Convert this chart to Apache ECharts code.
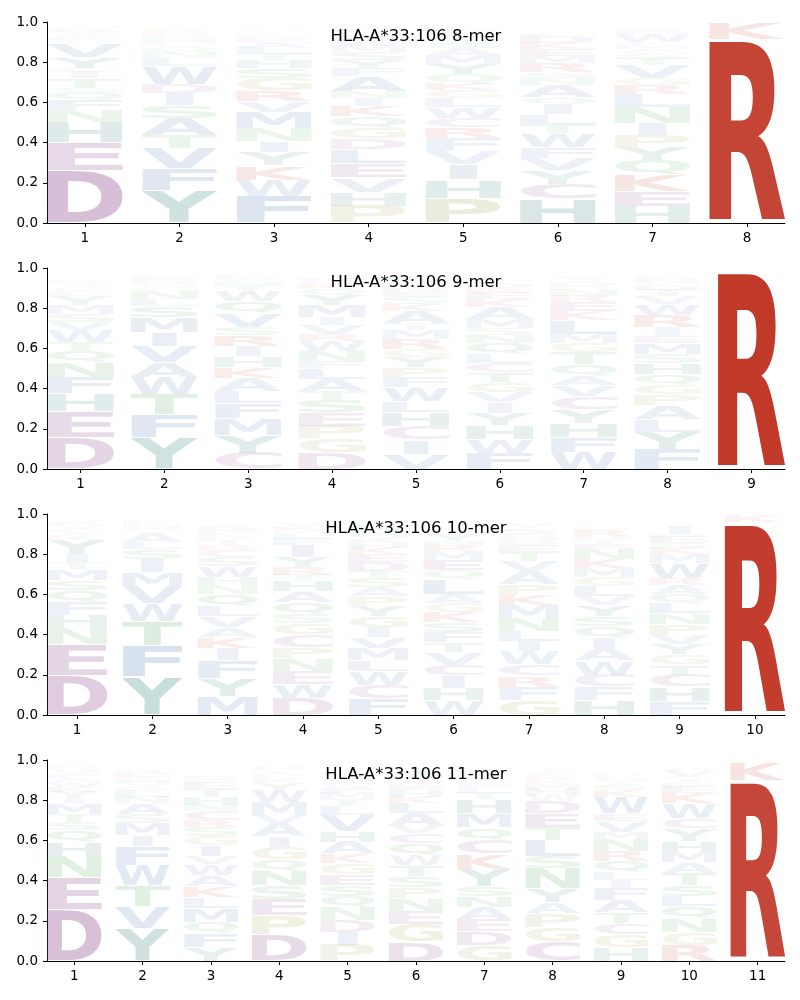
<!DOCTYPE html>
<html><head><meta charset="utf-8">
<script src="https://cdn.jsdelivr.net/npm/echarts@6/dist/echarts.min.js"></script>
<style>html,body{margin:0;padding:0;background:#fff}#c{width:800px;height:1000px}</style>
</head><body><div id="c"></div>
<script>
// Letter stacks per position, bottom -> top: [residue, frequency]
const mer8 = [
 [['D',.26],['E',.14],['H',.10],['N',.06],['F',.05],['Q',.04],['S',.02],['T',.05],['I',.03],['L',.02],['Y',.055],['V',.07],['G',.015],['K',.015],['A',.015],['M',.01],['R',.01],['W',.01],['P',.005],['C',.005]],
 [['Y',.16],['F',.11],['V',.10],['T',.065],['A',.085],['S',.065],['I',.06],['D',.045],['W',.09],['L',.04],['N',.03],['Q',.025],['G',.02],['H',.02],['E',.015],['K',.015],['R',.01],['P',.01],['C',.005]],
 [['F',.135],['W',.08],['K',.07],['Y',.065],['I',.055],['N',.065],['M',.08],['V',.055],['R',.055],['G',.06],['S',.05],['H',.04],['T',.03],['L',.03],['A',.025],['E',.02],['D',.015],['C',.01],['P',.01],['Q',.01]],
 [['P',.085],['H',.07],['V',.07],['E',.07],['L',.07],['D',.055],['G',.055],['Q',.055],['K',.05],['I',.04],['N',.035],['A',.075],['F',.04],['Y',.04],['S',.04],['M',.03],['W',.03],['R',.025],['T',.015],['C',.01]],
 [['P',.125],['H',.09],['I',.075],['V',.065],['F',.065],['R',.055],['C',.045],['W',.055],['L',.045],['G',.04],['K',.035],['Q',.045],['Y',.05],['M',.045],['A',.035],['S',.03],['T',.025],['E',.02],['D',.01],['N',.01]],
 [['H',.12],['C',.075],['Y',.065],['V',.06],['F',.055],['W',.07],['T',.04],['L',.055],['I',.05],['Q',.035],['A',.06],['N',.035],['S',.03],['R',.045],['M',.035],['E',.035],['K',.03],['D',.03],['P',.02],['G',.015]],
 [['H',.085],['E',.075],['K',.08],['Q',.07],['Y',.065],['P',.06],['I',.06],['N',.08],['L',.065],['R',.045],['G',.035],['V',.065],['T',.03],['S',.03],['A',.02],['M',.02],['F',.015],['W',.04],['D',.015],['C',.01]],
 [['R',.915],['K',.08]]
];
const mer9 = [
 [['D',.155],['E',.13],['H',.09],['F',.08],['N',.075],['Q',.055],['T',.045],['W',.06],['V',.04],['S',.04],['M',.045],['Y',.045],['L',.02],['K',.015],['A',.01],['G',.01],['I',.01],['R',.01],['P',.005],['C',.005]],
 [['Y',.155],['F',.115],['T',.10],['W',.085],['A',.075],['V',.08],['I',.07],['M',.075],['S',.055],['L',.035],['N',.04],['G',.02],['Q',.015],['H',.01],['K',.01],['E',.01],['D',.01],['R',.005],['P',.005],['C',.005]],
 [['C',.08],['Y',.09],['M',.08],['F',.075],['L',.06],['A',.065],['K',.055],['H',.055],['I',.05],['R',.055],['S',.04],['V',.07],['Q',.06],['W',.05],['T',.025],['N',.02],['E',.01],['G',.01],['D',.01],['P',.01]],
 [['D',.08],['G',.07],['P',.065],['E',.065],['S',.06],['T',.045],['A',.06],['L',.055],['F',.035],['N',.05],['W',.05],['R',.035],['V',.045],['I',.04],['M',.06],['Y',.05],['Q',.03],['K',.025],['C',.015],['H',.015]],
 [['V',.075],['I',.07],['C',.07],['H',.07],['L',.05],['W',.07],['F',.05],['P',.05],['Y',.05],['G',.04],['R',.05],['M',.045],['T',.035],['A',.06],['K',.035],['S',.035],['E',.025],['D',.02],['Q',.015],['N',.03]],
 [['F',.08],['W',.07],['H',.07],['Y',.06],['I',.05],['V',.05],['G',.05],['T',.05],['C',.045],['L',.045],['Q',.055],['N',.04],['S',.035],['M',.045],['A',.06],['K',.04],['E',.03],['R',.025],['D',.025],['P',.015]],
 [['W',.085],['F',.075],['H',.07],['Y',.065],['C',.065],['V',.055],['A',.05],['Q',.055],['T',.06],['G',.045],['M',.045],['L',.07],['K',.045],['E',.045],['R',.03],['N',.03],['P',.02],['D',.02],['I',.015],['S',.015]],
 [['F',.10],['Y',.085],['L',.06],['A',.07],['P',.055],['G',.05],['Q',.05],['H',.055],['S',.045],['M',.055],['E',.035],['I',.045],['R',.06],['W',.055],['V',.04],['T',.03],['D',.02],['C',.015],['N',.02],['K',.01]],
 [['R',.99]]
];
const mer10 = [
 [['D',.195],['E',.155],['N',.08],['H',.065],['F',.065],['Q',.06],['S',.05],['M',.055],['T',.035],['I',.045],['Y',.065],['K',.02],['A',.015],['L',.01],['G',.01],['V',.02],['R',.01],['W',.01],['P',.005],['C',.005]],
 [['Y',.19],['F',.155],['T',.12],['W',.09],['V',.085],['M',.07],['I',.065],['S',.05],['L',.035],['A',.045],['G',.015],['N',.01],['H',.01],['Q',.01],['K',.01],['E',.005],['D',.005],['R',.005],['P',.005],['C',.005]],
 [['M',.095],['Y',.085],['F',.09],['I',.06],['K',.055],['A',.05],['V',.055],['L',.05],['Q',.06],['N',.045],['H',.04],['W',.055],['S',.045],['C',.035],['R',.025],['T',.025],['P',.02],['E',.015],['D',.01],['G',.03]],
 [['D',.085],['W',.07],['E',.065],['N',.06],['P',.055],['C',.065],['G',.055],['S',.045],['Q',.06],['A',.055],['H',.05],['T',.03],['R',.04],['Y',.05],['I',.06],['F',.03],['L',.025],['M',.02],['K',.02],['V',.02]],
 [['F',.08],['C',.07],['W',.07],['L',.05],['M',.06],['V',.055],['I',.05],['G',.055],['Y',.05],['P',.05],['A',.045],['S',.045],['T',.035],['D',.045],['E',.04],['K',.03],['H',.025],['R',.02],['Q',.035],['N',.03]],
 [['W',.075],['H',.06],['I',.06],['C',.055],['V',.06],['T',.05],['F',.05],['S',.05],['K',.05],['G',.045],['A',.045],['L',.075],['Q',.045],['E',.05],['M',.04],['R',.03],['N',.025],['Y',.03],['D',.015],['P',.02]],
 [['G',.075],['F',.065],['R',.055],['C',.055],['W',.065],['I',.05],['L',.05],['N',.065],['M',.065],['K',.05],['P',.055],['A',.065],['V',.05],['T',.045],['E',.03],['Q',.025],['H',.02],['D',.015],['S',.03],['Y',.02]],
 [['H',.075],['F',.065],['C',.06],['W',.07],['A',.06],['I',.055],['Q',.055],['S',.05],['Y',.055],['V',.045],['L',.05],['G',.045],['M',.045],['K',.045],['N',.05],['E',.025],['T',.02],['D',.015],['R',.03],['P',.02]],
 [['F',.07],['H',.07],['C',.06],['T',.05],['G',.05],['Y',.05],['V',.045],['P',.055],['N',.055],['L',.05],['Q',.045],['A',.045],['R',.035],['W',.075],['M',.045],['K',.03],['S',.025],['E',.03],['D',.015],['I',.04]],
 [['R',.96],['K',.035]]
];
const mer11 = [
 [['D',.255],['E',.16],['N',.105],['H',.07],['Q',.06],['S',.04],['T',.04],['M',.055],['I',.025],['Y',.03],['K',.025],['W',.025],['A',.02],['F',.02],['V',.02],['G',.015],['L',.01],['R',.005],['P',.005],['C',.005]],
 [['Y',.16],['V',.11],['T',.105],['W',.10],['F',.095],['I',.055],['M',.06],['S',.045],['A',.055],['N',.03],['L',.03],['G',.025],['Q',.02],['H',.015],['K',.01],['E',.02],['R',.015],['P',.01],['D',.005],['C',.005]],
 [['Y',.07],['F',.07],['Q',.055],['M',.07],['L',.05],['K',.055],['A',.055],['W',.055],['V',.04],['I',.055],['G',.045],['S',.045],['R',.035],['C',.045],['N',.03],['H',.04],['T',.04],['E',.03],['P',.02],['D',.015]],
 [['D',.13],['P',.095],['E',.08],['S',.07],['N',.075],['Q',.055],['G',.06],['I',.055],['A',.065],['V',.04],['M',.065],['W',.06],['Y',.035],['K',.02],['L',.015],['R',.01],['T',.015],['F',.01],['H',.01],['C',.005]],
 [['P',.078],['I',.065],['D',.06],['N',.065],['Q',.055],['S',.055],['E',.055],['G',.055],['K',.045],['A',.06],['H',.05],['V',.08],['L',.045],['T',.035],['M',.03],['F',.025],['W',.02],['R',.015],['Y',.03],['C',.02]],
 [['D',.095],['G',.09],['E',.065],['N',.06],['P',.055],['S',.055],['T',.055],['W',.05],['Q',.06],['C',.05],['V',.04],['A',.06],['L',.05],['K',.03],['H',.03],['F',.025],['R',.02],['M',.015],['Y',.03],['I',.02]],
 [['G',.078],['D',.07],['E',.06],['A',.06],['N',.055],['S',.05],['Y',.085],['K',.075],['C',.07],['Q',.06],['M',.07],['H',.07],['T',.03],['L',.025],['F',.02],['W',.015],['I',.03],['R',.02],['V',.01],['P',.01]],
 [['C',.095],['G',.07],['P',.07],['A',.055],['Y',.07],['N',.10],['S',.06],['L',.08],['T',.065],['E',.07],['D',.06],['W',.03],['H',.03],['M',.025],['K',.02],['R',.015],['F',.02],['I',.01],['Q',.01],['V',.01]],
 [['H',.068],['G',.065],['C',.055],['T',.055],['A',.06],['F',.06],['I',.04],['L',.04],['Q',.055],['R',.05],['N',.06],['M',.035],['V',.055],['E',.035],['W',.08],['K',.035],['S',.025],['Y',.02],['D',.015],['P',.02]],
 [['R',.078],['G',.065],['N',.07],['Q',.06],['L',.05],['S',.055],['T',.06],['A',.055],['M',.05],['H',.055],['Y',.06],['C',.05],['W',.075],['K',.05],['E',.03],['D',.02],['I',.02],['P',.01],['V',.03],['F',.01]],
 [['R',.90],['K',.085]]
];
const titles = ['HLA-A*33:106 8-mer','HLA-A*33:106 9-mer','HLA-A*33:106 10-mer','HLA-A*33:106 11-mer'];
const panels = [mer8, mer9, mer10, mer11];

// ---- styling ----
const GROUP_RGB = {
  purple: [134,64,134], cys: [140,75,150], red: [192,55,39], teal: [40,125,115],
  green: [60,160,70], tan: [150,150,60], blue: [74,115,176]
};
const LETTER_GROUP = {D:'purple',E:'purple',C:'cys',K:'red',R:'red',H:'teal',Y:'teal',
  N:'green',Q:'green',S:'green',T:'green',P:'tan',G:'tan',
  A:'blue',V:'blue',L:'blue',I:'blue',M:'blue',F:'blue',W:'blue'};
const FONT = 'bold 100px "DejaVu Sans"';
const VPAD = 0.04, HALFW = 0.4;
const mctx = document.createElement('canvas').getContext('2d');
mctx.font = FONT; mctx.textBaseline = 'middle'; mctx.textAlign = 'left';
const gcache = {};
function glyph(ch){
  if (!gcache[ch]) {
    const m = mctx.measureText(ch);
    gcache[ch] = {L:m.actualBoundingBoxLeft, R:m.actualBoundingBoxRight, A:m.actualBoundingBoxAscent, D:m.actualBoundingBoxDescent,
      w:m.actualBoundingBoxLeft + m.actualBoundingBoxRight, h:m.actualBoundingBoxAscent + m.actualBoundingBoxDescent};
  }
  return gcache[ch];
}
function fillFor(ch, f){
  const c = GROUP_RGB[LETTER_GROUP[ch]];
  const a = Math.min(1, Math.pow(f, 0.82));
  return 'rgba(' + c[0] + ',' + c[1] + ',' + c[2] + ',' + a.toFixed(3) + ')';
}

const PANEL_TOP = [22, 268, 514, 760], PANEL_H = 201;
const grids = [], xAxes = [], yAxes = [], series = [], graphics = [];
const axisCol = '#000';
const LABEL_FS = 13.5;
panels.forEach((data, k) => {
  const n = data.length;
  const ticks = data.map((_, i) => i + 1);
  grids.push({left: 47, width: 738, top: PANEL_TOP[k], height: PANEL_H});
  xAxes.push({gridIndex: k, type: 'value', min: 0.6, max: n + 0.4,
    axisLine: {show: true, onZero: false, lineStyle: {color: axisCol, width: 1}},
    axisTick: {show: true, customValues: ticks, length: 4, lineStyle: {color: axisCol, width: 1}},
    axisLabel: {customValues: ticks, color: axisCol, fontSize: LABEL_FS, fontFamily: 'DejaVu Sans', margin: 8,
      formatter: v => String(v)},
    splitLine: {show: false}});
  yAxes.push({gridIndex: k, type: 'value', min: 0, max: 1, interval: 0.2,
    axisLine: {show: true, lineStyle: {color: axisCol, width: 1}},
    axisTick: {show: true, length: 4, lineStyle: {color: axisCol, width: 1}},
    axisLabel: {color: axisCol, fontSize: LABEL_FS, fontFamily: 'DejaVu Sans', margin: 9,
      formatter: v => v.toFixed(1)},
    splitLine: {show: false}});
  const items = [];
  data.forEach((stack, i) => {
    let y = 0;
    stack.forEach(([ch, f]) => { items.push({value: [i + 1, y, y + f], ch: ch, f: f}); y += f; });
  });
  series.push({
    type: 'custom', xAxisIndex: k, yAxisIndex: k, silent: true, clip: false,
    data: items.map(d => d.value),
    renderItem: function (params, api) {
      const it = items[params.dataIndex];
      const x = api.value(0), y0 = api.value(1), y1 = api.value(2);
      const pad = (y1 - y0) * VPAD / 2;
      const p0 = api.coord([x - HALFW, y1 - pad]);
      const p1 = api.coord([x + HALFW, y0 + pad]);
      const bw = p1[0] - p0[0], bh = p1[1] - p0[1];
      if (bh <= 0) return null;
      const g = glyph(it.ch), gE = glyph('E');
      const sx = Math.min(bw / g.w, bw / gE.w);
      const sy = bh / g.h;
      const cx = (p0[0] + p1[0]) / 2;
      const left = cx - g.w * sx / 2;
      return {type: 'text', x: left + g.L * sx, y: p0[1] + g.A * sy, scaleX: sx, scaleY: sy,
        style: {text: it.ch, font: FONT, fill: fillFor(it.ch, it.f),
          align: 'left', verticalAlign: 'middle', textAlign: 'left', textVerticalAlign: 'middle'}};
    }
  });
  graphics.push({type: 'text', x: 416, y: PANEL_TOP[k] + 14.5, z: 100,
    style: {text: titles[k], font: '16.5px "DejaVu Sans"', fill: '#000',
      align: 'center', verticalAlign: 'middle', textAlign: 'center', textVerticalAlign: 'middle'}});
});

const chart = echarts.init(document.getElementById('c'), null, {renderer: 'canvas', devicePixelRatio: 1});
chart.setOption({animation: false, backgroundColor: '#fff', grid: grids, xAxis: xAxes, yAxis: yAxes,
  series: series, graphic: graphics});
</script>
</body></html>
